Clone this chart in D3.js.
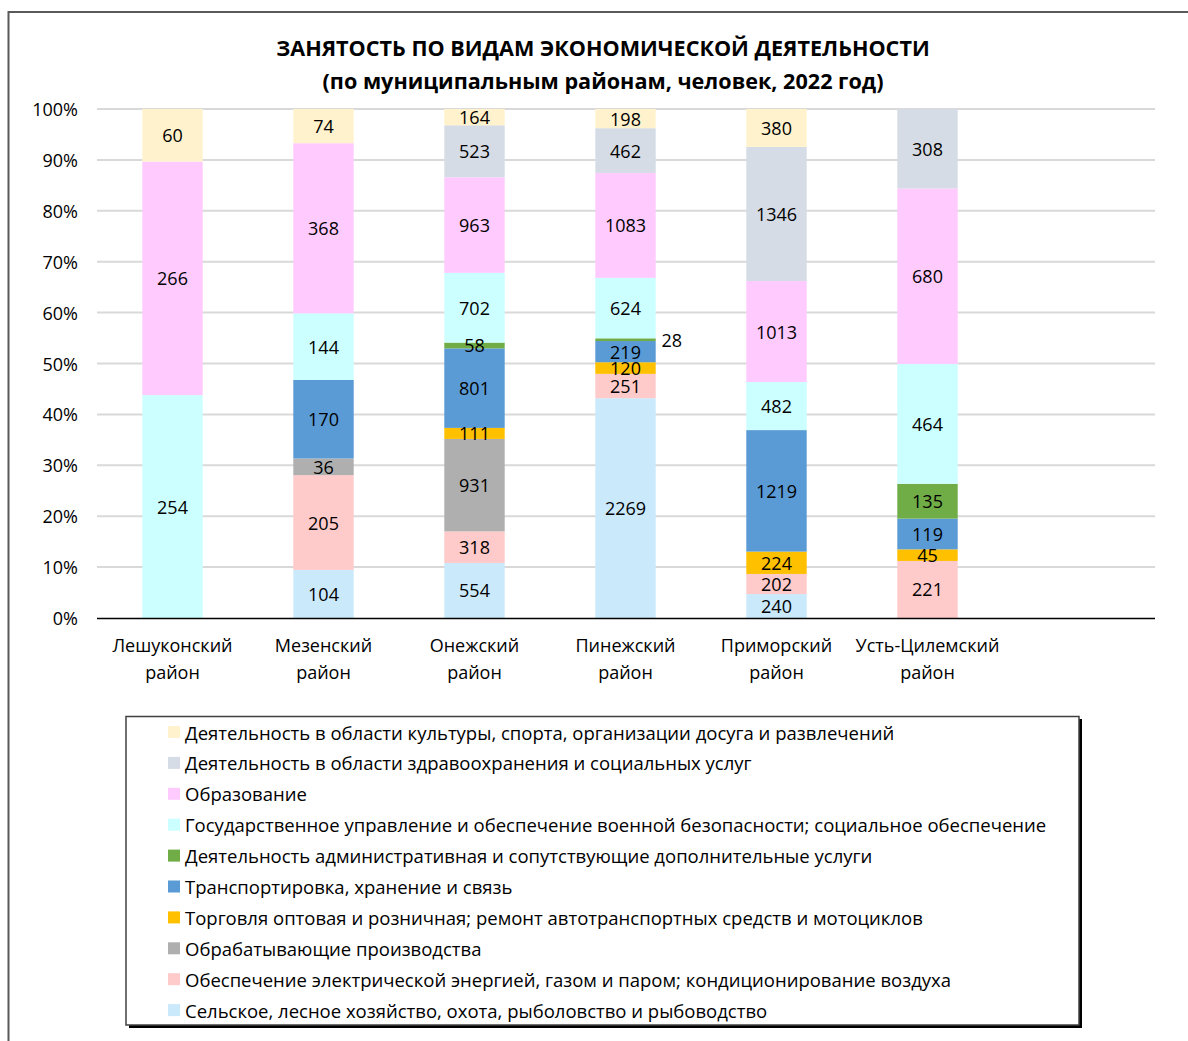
<!DOCTYPE html>
<html>
<head>
<meta charset="utf-8">
<script src="https://cdn.jsdelivr.net/npm/d3@7"></script>
<style>
  body { margin: 0; background: #fff; }
  text { font-family: "Open Sans", "Noto Sans", sans-serif; fill: #000; }
</style>
</head>
<body>
<svg id="chart" width="1188" height="1041"></svg>
<script>
// districts (the last empty slot keeps the plot wide like the original)
var districts = ["Лешуконский район", "Мезенский район", "Онежский район",
  "Пинежский район", "Приморский район", "Усть-Цилемский район"];

// series, bottom to top
var seriesNames = [
  "Сельское, лесное хозяйство, охота, рыболовство и рыбоводство",
  "Обеспечение электрической энергией, газом и паром; кондиционирование воздуха",
  "Обрабатывающие производства",
  "Торговля оптовая и розничная; ремонт автотранспортных средств и мотоциклов",
  "Транспортировка, хранение и связь",
  "Деятельность административная и сопутствующие дополнительные услуги",
  "Государственное управление и обеспечение военной безопасности; социальное обеспечение",
  "Образование",
  "Деятельность в области здравоохранения и социальных услуг",
  "Деятельность в области культуры, спорта, организации досуга и развлечений"
];
var seriesColors = ["#caeafc", "#ffcaca", "#afafaf", "#ffc000", "#5b9bd5",
  "#70ad47", "#ccffff", "#ffcbff", "#d6dce5", "#fff2cc"];

// values per series, one per district
var agriculture = [0, 104, 554, 2269, 240, 0];
var electricity = [0, 205, 318, 251, 202, 221];
var manufacturing = [0, 36, 931, 0, 0, 0];
var trade = [0, 0, 111, 120, 224, 45];
var transport = [0, 170, 801, 219, 1219, 119];
var administrative = [0, 0, 58, 28, 0, 135];
var government = [254, 144, 702, 624, 482, 464];
var education = [266, 368, 963, 1083, 1013, 680];
var health = [0, 0, 523, 462, 1346, 308];
var culture = [60, 74, 164, 198, 380, 0];

var seriesValues = [agriculture, electricity, manufacturing, trade, transport,
  administrative, government, education, health, culture];

var yTicks = [0, 0.1, 0.2, 0.3, 0.4, 0.5, 0.6, 0.7, 0.8, 0.9, 1];

// labels Excel pushed beside the bar: [district index, series index]
var outsideLabels = [[3, 5]];

var svg = d3.select("#chart");

// outer chart frame
svg.append("rect")
  .attr("x", 8.5).attr("y", 12)
  .attr("width", 1200).attr("height", 1050)
  .attr("fill", "none")
  .attr("stroke", "#595959")
  .attr("stroke-width", 2);

// title
svg.append("text")
  .attr("x", 603).attr("y", 47)
  .attr("text-anchor", "middle").attr("dominant-baseline", "central")
  .attr("font-size", 21.6).attr("font-weight", "bold")
  .text("ЗАНЯТОСТЬ ПО ВИДАМ ЭКОНОМИЧЕСКОЙ ДЕЯТЕЛЬНОСТИ");
svg.append("text")
  .attr("x", 603).attr("y", 80)
  .attr("text-anchor", "middle").attr("dominant-baseline", "central")
  .attr("font-size", 21.6).attr("font-weight", "bold")
  .text("(по муниципальным районам, человек, 2022 год)");

// scales
var x = d3.scaleBand()
  .domain(districts.concat([""]))
  .range([97, 1154])
  .paddingInner(0.6)
  .paddingOuter(0.3);

var y = d3.scaleLinear().domain([0, 1]).range([618, 109]);

// rows for the stack: shares of each district total
var rows = districts.map(function(d, i) {
  var total = d3.sum(seriesValues, function(s) { return s[i]; });
  var row = { district: d, index: i };
  seriesValues.forEach(function(s, k) { row[k] = s[i] / total; });
  return row;
});

var stack = d3.stack().keys(d3.range(seriesNames.length));
var layers = stack(rows);

// gridlines
svg.append("g")
  .selectAll("line")
  .data(yTicks.slice(1))
  .join("line")
  .attr("x1", 97).attr("x2", 1155)
  .attr("y1", function(d) { return y(d); })
  .attr("y2", function(d) { return y(d); })
  .attr("stroke", "#d9d9d9")
  .attr("stroke-width", 2);

// y axis labels
svg.append("g")
  .selectAll("text")
  .data(yTicks)
  .join("text")
  .attr("x", 78)
  .attr("y", function(d) { return y(d); })
  .attr("text-anchor", "end").attr("dominant-baseline", "central")
  .attr("font-size", 18)
  .text(d3.format(".0%"));

// bars
var layerG = svg.append("g")
  .selectAll("g")
  .data(layers)
  .join("g")
  .attr("fill", function(d) { return seriesColors[d.key]; });

layerG.selectAll("rect")
  .data(function(d) { return d; })
  .join("rect")
  .attr("x", function(d) { return x(d.data.district); })
  .attr("width", x.bandwidth())
  .attr("y", function(d) { return y(d[1]); })
  .attr("height", function(d) { return y(d[0]) - y(d[1]); });

// data labels
var isOutside = function(i, k) {
  return outsideLabels.some(function(o) { return o[0] === i && o[1] === k; });
};

layers.forEach(function(layer) {
  var k = layer.key;
  svg.append("g")
    .selectAll("text")
    .data(layer.filter(function(d) { return seriesValues[k][d.data.index] > 0; }))
    .join("text")
    .attr("x", function(d) {
      var cx = x(d.data.district) + x.bandwidth() / 2;
      return isOutside(d.data.index, k) ? cx + x.bandwidth() / 2 + 16 : cx;
    })
    .attr("y", function(d) { return y((d[0] + d[1]) / 2); })
    .attr("text-anchor", "middle").attr("dominant-baseline", "central")
    .attr("font-size", 18)
    .text(function(d) { return seriesValues[k][d.data.index]; });
});

// baseline
svg.append("line")
  .attr("x1", 97).attr("x2", 1155)
  .attr("y1", 618.5).attr("y2", 618.5)
  .attr("stroke", "#000")
  .attr("stroke-width", 1.5);

// category labels, two lines each
var catG = svg.append("g")
  .selectAll("text")
  .data(districts)
  .join("text")
  .attr("x", function(d) { return x(d) + x.bandwidth() / 2; })
  .attr("text-anchor", "middle")
  .attr("font-size", 18);

catG.selectAll("tspan")
  .data(function(d) { return d.split(" "); })
  .join("tspan")
  .attr("x", function() { return this.parentNode.getAttribute("x"); })
  .attr("y", function(d, i) { return 645 + i * 27; })
  .attr("dominant-baseline", "central")
  .text(function(d) { return d; });

// legend
var legend = svg.append("g");
legend.append("rect")
  .attr("x", 129).attr("y", 719)
  .attr("width", 953).attr("height", 309)
  .attr("fill", "#000");
legend.append("rect")
  .attr("x", 126).attr("y", 716.5)
  .attr("width", 953).attr("height", 308.5)
  .attr("fill", "#fff")
  .attr("stroke", "#404040")
  .attr("stroke-width", 1.5);

var legendOrder = d3.range(seriesNames.length).reverse();
var legendItem = legend.selectAll("g.item")
  .data(legendOrder)
  .join("g")
  .attr("class", "item")
  .attr("transform", function(d, i) { return "translate(168," + (732 + i * 30.9) + ")"; });

legendItem.append("rect")
  .attr("x", 0).attr("y", -6)
  .attr("width", 12).attr("height", 12)
  .attr("fill", function(d) { return seriesColors[d]; });

legendItem.append("text")
  .attr("x", 17).attr("y", 0)
  .attr("dominant-baseline", "central")
  .attr("font-size", 18.5)
  .text(function(d) { return seriesNames[d]; });
</script>
</body>
</html>
